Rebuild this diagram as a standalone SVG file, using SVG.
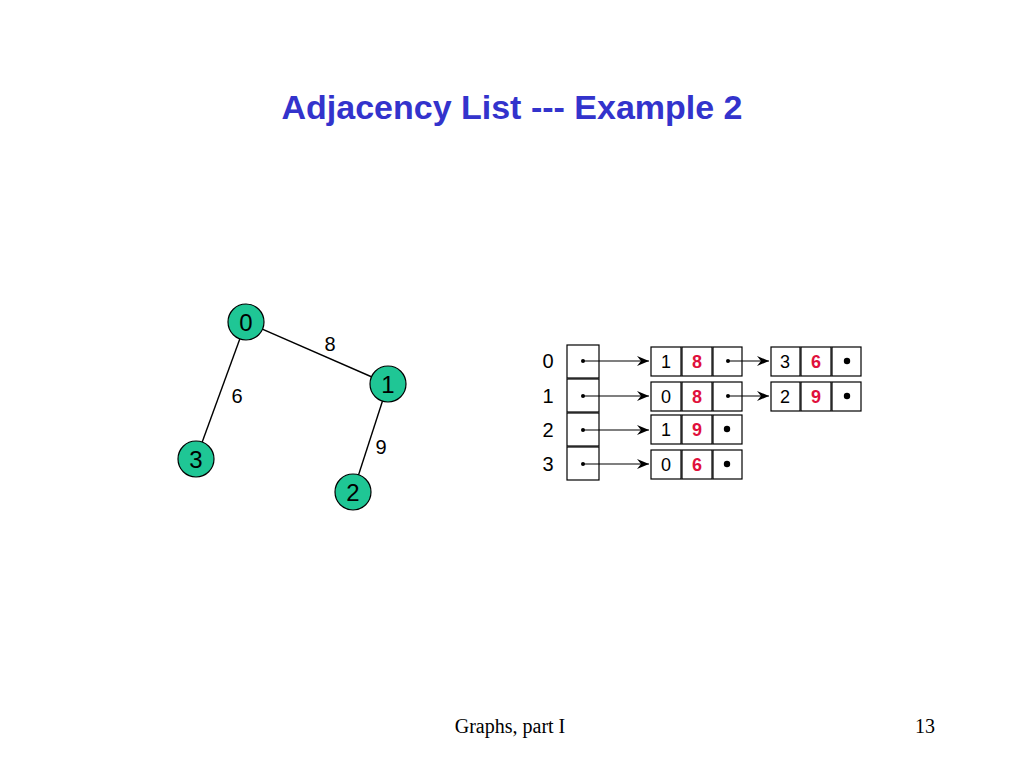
<svg xmlns="http://www.w3.org/2000/svg" width="1024" height="768" viewBox="0 0 1024 768">
<defs>
<style>
.t{font-family:"Liberation Sans",Arial,sans-serif;}
.node circle{fill:#1fc695;stroke:#000;stroke-width:1.2;}
.node text{font-family:"Liberation Sans",Arial,sans-serif;font-size:24px;text-anchor:middle;fill:#000;}
.edge{stroke:#000;stroke-width:1.4;}
.w{font-family:"Liberation Sans",Arial,sans-serif;font-size:20px;text-anchor:middle;fill:#000;}
.cell{fill:#fff;stroke:#000;stroke-width:1.2;}
.ct{font-family:"Liberation Sans",Arial,sans-serif;font-size:18px;text-anchor:middle;fill:#000;}
.cr{font-family:"Liberation Sans",Arial,sans-serif;font-size:18px;font-weight:bold;text-anchor:middle;fill:#e0103c;}
.idx{font-family:"Liberation Sans",Arial,sans-serif;font-size:20px;text-anchor:middle;fill:#000;}
.ptr{stroke:#000;stroke-width:1.2;fill:none;marker-end:url(#ah);}
</style>
<marker id="ah" viewBox="0 0 12 10" refX="12" refY="5" markerWidth="12" markerHeight="10" markerUnits="userSpaceOnUse" orient="auto">
<path d="M0,0 L12,5 L0,10 L4,5 Z" fill="#000"/>
</marker>
</defs>
<rect width="1024" height="768" fill="#fff"/>
<text x="512" y="119" class="t" font-size="34" font-weight="bold" fill="#3333cc" text-anchor="middle">Adjacency List --- Example 2</text>

<g id="graph-edges">
<line class="edge" x1="246" y1="322" x2="388" y2="384"/>
<line class="edge" x1="246" y1="322" x2="196" y2="459"/>
<line class="edge" x1="388" y1="384" x2="353" y2="492"/>
</g>
<g id="edge-labels">
<text class="w" x="330" y="351">8</text>
<text class="w" x="237" y="403">6</text>
<text class="w" x="381" y="454">9</text>
</g>
<g id="node0" class="node"><circle cx="246" cy="322" r="18"/><text x="246" y="331">0</text></g>
<g id="node1" class="node"><circle cx="388" cy="384" r="18"/><text x="388" y="393">1</text></g>
<g id="node2" class="node"><circle cx="353" cy="492" r="18"/><text x="353" y="501">2</text></g>
<g id="node3" class="node"><circle cx="196" cy="459" r="18"/><text x="196" y="468">3</text></g>

<g id="index-labels">
<text class="idx" x="548" y="368">0</text>
<text class="idx" x="548" y="403">1</text>
<text class="idx" x="548" y="437">2</text>
<text class="idx" x="548" y="471">3</text>
</g>
<g id="head-array">
<rect class="cell" x="567" y="345" width="32" height="33"/>
<rect class="cell" x="567" y="379" width="32" height="33"/>
<rect class="cell" x="567" y="413" width="32" height="33"/>
<rect class="cell" x="567" y="447" width="32" height="33"/>
<circle cx="583" cy="361" r="2"/>
<circle cx="583" cy="396" r="2"/>
<circle cx="583" cy="430" r="2"/>
<circle cx="583" cy="464" r="2"/>
</g>

<g id="list0-a">
<rect class="cell" x="651" y="347" width="30" height="29"/>
<rect class="cell" x="682" y="347" width="30" height="29"/>
<rect class="cell" x="713" y="347" width="29" height="29"/>
<text class="ct" x="666" y="368">1</text><text class="cr" x="697" y="368">8</text>
<circle cx="728" cy="361" r="2"/>
</g>
<g id="list0-b">
<rect class="cell" x="771" y="347" width="29" height="29"/>
<rect class="cell" x="801" y="347" width="30" height="29"/>
<rect class="cell" x="832" y="347" width="29" height="29"/>
<text class="ct" x="785" y="368">3</text><text class="cr" x="816" y="368">6</text>
<circle cx="847" cy="361" r="3.2"/>
</g>
<g id="list1-a">
<rect class="cell" x="651" y="382" width="30" height="29"/>
<rect class="cell" x="682" y="382" width="30" height="29"/>
<rect class="cell" x="713" y="382" width="29" height="29"/>
<text class="ct" x="666" y="403">0</text><text class="cr" x="697" y="403">8</text>
<circle cx="728" cy="396" r="2"/>
</g>
<g id="list1-b">
<rect class="cell" x="771" y="382" width="29" height="29"/>
<rect class="cell" x="801" y="382" width="30" height="29"/>
<rect class="cell" x="832" y="382" width="29" height="29"/>
<text class="ct" x="785" y="403">2</text><text class="cr" x="816" y="403">9</text>
<circle cx="847" cy="396" r="3.2"/>
</g>
<g id="list2-a">
<rect class="cell" x="651" y="415" width="30" height="29"/>
<rect class="cell" x="682" y="415" width="30" height="29"/>
<rect class="cell" x="713" y="415" width="29" height="29"/>
<text class="ct" x="666" y="436">1</text><text class="cr" x="697" y="436">9</text>
<circle cx="727" cy="429" r="3.2"/>
</g>
<g id="list3-a">
<rect class="cell" x="651" y="450" width="30" height="29"/>
<rect class="cell" x="682" y="450" width="30" height="29"/>
<rect class="cell" x="713" y="450" width="29" height="29"/>
<text class="ct" x="666" y="471">0</text><text class="cr" x="697" y="471">6</text>
<circle cx="727" cy="464" r="3.2"/>
</g>

<g id="connectors">
<line class="ptr" x1="583" y1="361" x2="649" y2="361"/>
<line class="ptr" x1="583" y1="396" x2="649" y2="396"/>
<line class="ptr" x1="583" y1="430" x2="649" y2="430"/>
<line class="ptr" x1="583" y1="464" x2="649" y2="464"/>
<line class="ptr" x1="728" y1="361" x2="769" y2="361"/>
<line class="ptr" x1="728" y1="396" x2="769" y2="396"/>
</g>

<text x="510" y="733" font-family="'Liberation Serif','Times New Roman',serif" font-size="20" text-anchor="middle" fill="#000">Graphs, part I</text>
<text x="935" y="733" font-family="'Liberation Serif','Times New Roman',serif" font-size="20" text-anchor="end" fill="#000">13</text>
</svg>
